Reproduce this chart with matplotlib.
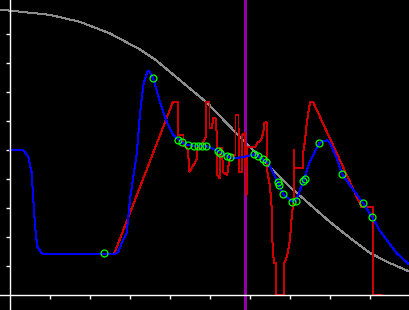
import matplotlib
matplotlib.use("Agg")
import matplotlib.pyplot as plt

# Gray smooth curve
gray_x = [-0.2575, 0.2425, 0.99, 1.74, 2.49, 3.24, 3.64, 4.935, 5.74, 6.99, 7.99, 8.49, 8.99, 9.49, 9.99]
gray_y = [9.84, 9.77, 9.66, 9.42, 9.02, 8.47, 8.10, 6.61, 5.45, 3.73, 2.52, 1.97, 1.45, 1.10, 0.80]

# Blue smooth curve
blue_x = [0.0, 0.325, 0.45, 0.535, 0.575, 0.62, 0.675, 0.785, 0.91, 2.57, 2.69, 2.785, 2.91, 2.99,
          3.16, 3.24, 3.325, 3.425, 3.47, 3.575, 3.74, 3.91, 4.075, 4.205, 4.29, 4.45, 4.89, 5.19,
          5.425, 5.575, 5.87, 6.09, 6.20, 6.385, 6.45, 6.62, 6.72, 6.825, 7.055, 7.14, 7.33, 7.49,
          7.64, 7.725, 7.825, 7.92, 7.99, 8.16, 8.30, 8.49, 8.825, 9.05, 9.24, 9.66, 9.99]
blue_y = [4.99, 4.99, 4.77, 4.21, 3.28, 2.36, 1.67, 1.44, 1.40, 1.40, 1.47, 1.78, 2.13, 3.28,
          4.86, 6.21, 7.24, 7.70, 7.72, 7.47, 6.67, 5.98, 5.52, 5.36, 5.26, 5.16, 5.14, 4.97,
          4.79, 4.71, 4.77, 4.85, 4.79, 4.60, 4.55, 4.08, 3.79, 3.47, 3.22, 3.24, 3.93, 4.60,
          5.00, 5.23, 5.31, 5.33, 5.24, 4.72, 4.16, 3.79, 3.16, 2.68, 2.21, 1.44, 1.03]

# Red jagged curve
red_x = [2.09, 2.59, 4.06, 4.20, 4.20, 4.33, 4.33, 4.39, 4.44, 4.48, 4.655, 4.67, 4.77, 4.82, 4.88,
         4.905, 4.98, 4.98, 5.04, 5.07, 5.13, 5.155, 5.17, 5.23, 5.255, 5.29, 5.32, 5.42, 5.47,
         5.54, 5.63, 5.63, 5.705, 5.705, 5.73, 5.79, 5.805, 5.87, 5.88, 5.905, 5.925, 6.12, 6.17,
         6.27, 6.32, 6.355, 6.405, 6.41, 6.44, 6.49, 6.53, 6.54, 6.59, 6.64, 6.64, 6.85, 6.85,
         6.89, 6.94, 6.99, 7.04, 7.08, 7.10, 7.105, 7.31, 7.325, 7.37, 7.41, 7.45, 7.49, 7.575,
         8.785, 9.075, 9.075, 9.285]
red_y = [1.40, 1.40, 6.64, 6.64, 5.52, 5.52, 5.14, 5.14, 5.00, 4.25, 4.66, 5.07, 5.07, 5.28, 5.41,
         6.67, 6.67, 5.76, 5.76, 6.10, 6.10, 5.69, 4.14, 4.03, 5.07, 5.07, 4.24, 4.14, 4.59,
         4.83, 4.83, 6.21, 6.21, 5.76, 4.24, 4.24, 5.52, 5.59, 4.48, 3.45, 5.10, 5.10, 5.24,
         5.34, 5.59, 5.93, 5.97, 4.38, 4.14, 3.79, 3.10, 2.14, 1.10, 1.10, 0.0, 0.0, 1.10,
         1.21, 1.48, 1.90, 2.76, 3.28, 5.00, 4.37, 4.37, 4.94, 5.34, 5.92, 6.27, 6.64, 6.64,
         3.02, 3.02, 0.0, 0.0]

# Green circle markers
pts_x = [2.34, 3.575, 4.205, 4.29, 4.45, 4.59, 4.70, 4.80, 4.89, 5.19, 5.24, 5.43, 5.48,
         6.09, 6.20, 6.31, 6.385, 6.70, 6.725, 6.825, 7.055, 7.14, 7.33, 7.37, 7.725, 8.30,
         8.825, 9.05]
pts_y = [1.44, 7.47, 5.36, 5.26, 5.16, 5.14, 5.14, 5.14, 5.14, 4.97, 4.89, 4.79, 4.76,
         4.85, 4.79, 4.69, 4.60, 3.88, 3.78, 3.47, 3.22, 3.24, 3.93, 3.99, 5.23, 4.16,
         3.16, 2.68]

vline_x = 5.86
xticks = [1, 2, 3, 4, 5, 6, 7, 8, 9]
yticks = [1, 2, 3, 4, 5, 6, 7, 8, 9]

fig = plt.figure(figsize=(4.1, 3.1), dpi=100, facecolor="black")
ax = fig.add_axes([0, 0, 1, 1], facecolor="black")
ax.set_xlim(-10.3 / 40, 399.7 / 40)
ax.set_ylim(-15 / 29, 295 / 29)

lw = 0.72
ax.plot(gray_x, gray_y, color="#8c8c8c", lw=lw, antialiased=False, zorder=2)
ax.axvline(vline_x, color="#9400a8", lw=0.75, antialiased=False, zorder=3)
ax.plot(red_x, red_y, color="#cc0000", lw=lw, antialiased=False, zorder=4)
ax.plot(blue_x, blue_y, color="#0000ff", lw=lw, antialiased=False, zorder=5)
ax.plot(pts_x, pts_y, linestyle="none", marker="o", markersize=5.0,
        markerfacecolor="none", markeredgecolor="#00ff00", markeredgewidth=0.9,
        antialiased=False, zorder=6)

for s in ["top", "right"]:
    ax.spines[s].set_visible(False)
ax.spines["left"].set_position(("data", 0))
ax.spines["bottom"].set_position(("data", 0))
for s in ["left", "bottom"]:
    ax.spines[s].set_color("white")
    ax.spines[s].set_linewidth(1.0)
    ax.spines[s].set_zorder(10)
ax.set_xticks(xticks)
ax.set_yticks(yticks)
ax.tick_params(colors="white", direction="out", length=3, width=1.0,
               labelleft=False, labelbottom=False)

fig.savefig("out.png", dpi=100, facecolor="black")
